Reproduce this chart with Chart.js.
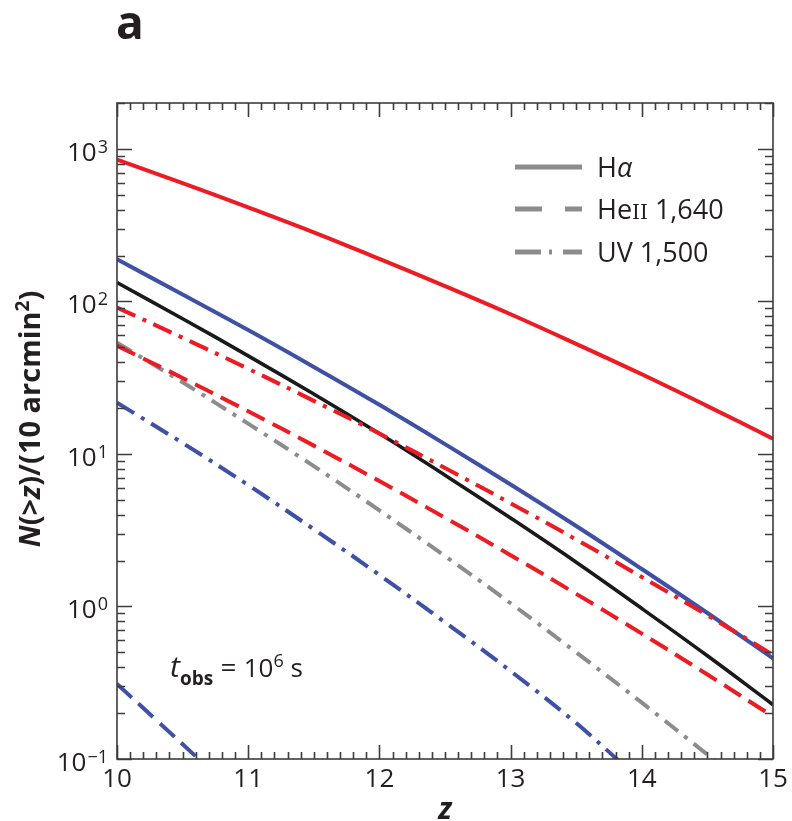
<!DOCTYPE html>
<html>
<head>
<meta charset="utf-8">
<script src="https://cdn.jsdelivr.net/npm/chart.js@4"></script>
<style>
  html, body { margin: 0; padding: 0; background: #fff; }
  #wrap { width: 792px; height: 821px; }
</style>
</head>
<body>
<div id="wrap"><canvas id="c" width="792" height="821"></canvas></div>
<script>
// redshift grid shared by the full curves
const zFull = [10, 10.5, 11, 11.5, 12, 12.5, 13, 13.5, 14, 14.5, 15];

// Halpha (solid)
const haRed   = [851, 597, 414, 284, 190, 126, 82.4, 52.7, 33.3, 20.6, 12.6];
const haBlue  = [189, 111, 64.9, 37.2, 21.0, 11.6, 6.31, 3.37, 1.76, 0.906, 0.457];
const haBlack = [133, 77, 44, 24.7, 13.6, 7.26, 3.80, 1.95, 0.97, 0.475, 0.227];

// HeII 1640 (dashed)
const heRed = [51.3, 31.5, 19.05, 11.34, 6.64, 3.82, 2.17, 1.21, 0.664, 0.358, 0.19];
const zHeBlue = [10, 10.3, 10.65];
const heBlue  = [0.31, 0.18, 0.095];

// UV 1500 (dash-dot)
const uvRed = [91.2, 57.8, 36.2, 22.3, 13.6, 8.09, 4.75, 2.75, 1.56, 0.875, 0.482];
const zUvGray = [10, 10.5, 11, 11.5, 12, 12.5, 13, 13.5, 14, 14.5, 14.6];
const uvGray  = [53.7, 29.5, 15.8, 8.32, 4.27, 2.14, 1.05, 0.50, 0.234, 0.107, 0.091];
const zUvBlue = [10, 10.5, 11, 11.5, 12, 12.5, 13, 13.5, 13.85];
const uvBlue  = [21.7, 11.8, 6.25, 3.21, 1.61, 0.787, 0.377, 0.172, 0.093];

const xTicks = [10, 11, 12, 13, 14, 15];
const yTicks = [0.1, 1, 10, 100, 1000];
const yExp   = ['\u22121', '0', '1', '2', '3'];

const RED = '#ed1c24', BLUE = '#3f51a5', BLACK = '#1a1a1a', GRAY = '#8c8c8c';
const DASH = [20, 9];
const DASHDOT = [20, 8, 4, 8];

function pts(zs, vs) {
  return zs.map((z, i) => ({ x: z, y: vs[i] }));
}

function line(label, zs, vs, color, dash, width) {
  return {
    label: label,
    data: pts(zs, vs),
    borderColor: color,
    borderWidth: width || 4,
    borderDash: dash || [],
    borderCapStyle: 'butt',
    pointRadius: 0,
    fill: false,
    tension: 0.4
  };
}

// dataset 0 is painted last (on top)
const datasets = [
  line('UV 1,500 red', zFull, uvRed, RED, DASHDOT),
  line('HeII 1,640 red', zFull, heRed, RED, DASH),
  line('Halpha red', zFull, haRed, RED),
  line('Halpha black', zFull, haBlack, BLACK, null, 3.6),
  line('Halpha blue', zFull, haBlue, BLUE),
  line('UV 1,500 gray', zUvGray, uvGray, GRAY, [17, 8, 4, 8]),
  line('UV 1,500 blue', zUvBlue, uvBlue, BLUE, DASHDOT),
  line('HeII 1,640 blue', zHeBlue, heBlue, BLUE, DASH)
];

const FONT = '"Open Sans", "Noto Sans", sans-serif';
const INK = '#231f20';

// draw a run of differently styled text pieces; returns total width
function runs(ctx, x, y, parts, align) {
  let w = 0;
  parts.forEach(p => { ctx.font = p.f; w += ctx.measureText(p.t).width; });
  let cx = align === 'center' ? x - w / 2 : (align === 'right' ? x - w : x);
  ctx.textAlign = 'left';
  ctx.textBaseline = 'alphabetic';
  parts.forEach(p => {
    ctx.font = p.f;
    ctx.fillText(p.t, cx, y + (p.dy || 0));
    cx += ctx.measureText(p.t).width;
  });
  return w;
}

const decor = {
  id: 'decor',
  afterDraw(chart) {
    const ctx = chart.ctx;
    const a = chart.chartArea;
    const xs = chart.scales.x, ys = chart.scales.y;
    ctx.save();
    ctx.strokeStyle = '#3c3c3c';
    ctx.lineWidth = 1.6;
    ctx.strokeRect(a.left, a.top, a.right - a.left, a.bottom - a.top);

    // y ticks (log minor ticks) on both sides
    ctx.beginPath();
    for (let k = -1; k <= 3; k++) {
      for (let m = 1; m <= 9; m++) {
        const v = m * Math.pow(10, k);
        if (v < ys.min || v > ys.max) continue;
        const py = Math.round(ys.getPixelForValue(v)) + 0.5;
        const len = m === 1 ? 15 : 8;
        ctx.moveTo(a.left, py); ctx.lineTo(a.left + len, py);
        ctx.moveTo(a.right, py); ctx.lineTo(a.right - len, py);
      }
    }
    // x ticks every 0.1 on top and bottom
    for (let i = 0; i <= 50; i++) {
      const z = 10 + i / 10;
      const px = Math.round(xs.getPixelForValue(z)) + 0.5;
      const len = i % 10 === 0 ? 14 : 7;
      ctx.moveTo(px, a.bottom); ctx.lineTo(px, a.bottom - len);
      ctx.moveTo(px, a.top); ctx.lineTo(px, a.top + len);
    }
    ctx.stroke();

    ctx.fillStyle = INK;
    // y tick labels
    yTicks.forEach((v, i) => {
      const py = ys.getPixelForValue(v);
      ctx.font = '18px ' + FONT;
      const we = ctx.measureText(yExp[i]).width;
      ctx.textAlign = 'left';
      ctx.textBaseline = 'alphabetic';
      ctx.fillText(yExp[i], 108 - we, py + 4);
      ctx.font = '26px ' + FONT;
      ctx.textAlign = 'right';
      ctx.fillText('10', 107 - we, py + 12);
    });
    // x tick labels
    ctx.font = '26px ' + FONT;
    ctx.textAlign = 'center';
    xTicks.forEach(z => {
      ctx.fillText(String(z), xs.getPixelForValue(z), 787);
    });

    // axis titles
    runs(ctx, xs.getPixelForValue(12.5), 819, [{ t: 'z', f: 'italic bold 30px ' + FONT }], 'center');
    ctx.save();
    ctx.translate(40, (a.top + a.bottom) / 2 - 12);
    ctx.rotate(-Math.PI / 2);
    const B = 'bold 29px ' + FONT, BI = 'italic bold 29px ' + FONT;
    runs(ctx, 0, 0, [
      { t: 'N', f: BI }, { t: '(>', f: B }, { t: 'z', f: BI },
      { t: ')/(10 arcmin', f: B }, { t: '2', f: 'bold 19px ' + FONT, dy: -11 },
      { t: ')', f: B }
    ], 'center');
    ctx.restore();

    // panel letter
    ctx.font = 'bold 46px ' + FONT;
    ctx.textAlign = 'left';
    ctx.fillText('a', 116, 39);

    // legend
    const lx0 = 515, lx1 = 582, tx = 597;
    const rows = [
      { y: 167, dash: [], parts: [{ t: 'H', f: '27px ' + FONT }, { t: '\u03b1', f: 'italic 27px ' + FONT }] },
      { y: 209, dash: [27, 23, 17], parts: [{ t: 'He', f: '27px ' + FONT }, { t: 'II', f: '20px "DejaVu Serif", serif' }, { t: ' 1,640', f: '27px ' + FONT }] },
      { y: 252, dash: [26, 8, 3, 11, 19], parts: [{ t: 'UV 1,500', f: '27px ' + FONT }] }
    ];
    rows.forEach(r => {
      ctx.save();
      ctx.strokeStyle = GRAY;
      ctx.lineWidth = 5;
      ctx.setLineDash(r.dash);
      ctx.beginPath();
      ctx.moveTo(lx0, r.y); ctx.lineTo(lx1, r.y);
      ctx.stroke();
      ctx.restore();
      runs(ctx, tx, r.y + 10, r.parts, 'left');
    });

    // observing time note
    runs(ctx, 170, 677, [
      { t: 't', f: 'italic 30px ' + FONT },
      { t: 'obs', f: 'bold 19px ' + FONT, dy: 8 },
      { t: ' = ', f: '28px ' + FONT },
      { t: '10', f: '26px ' + FONT },
      { t: '6', f: '18px ' + FONT, dy: -10 },
      { t: ' s', f: '26px ' + FONT }
    ], 'left');
    ctx.restore();
  }
};

new Chart(document.getElementById('c'), {
  type: 'line',
  data: { datasets: datasets },
  options: {
    responsive: false,
    devicePixelRatio: 1,
    animation: false,
    layout: { padding: { left: 0, top: 103, right: 19, bottom: 0 } },
    plugins: { legend: { display: false }, tooltip: { enabled: false } },
    scales: {
      x: {
        type: 'linear', min: 10, max: 15,
        grid: { display: false }, border: { display: false },
        ticks: { display: false },
        afterFit(s) { s.height = 62; }
      },
      y: {
        type: 'logarithmic', min: 0.1, max: 2000,
        grid: { display: false }, border: { display: false },
        ticks: { display: false },
        afterFit(s) { s.width = 117; }
      }
    }
  },
  plugins: [decor]
});
</script>
</body>
</html>
